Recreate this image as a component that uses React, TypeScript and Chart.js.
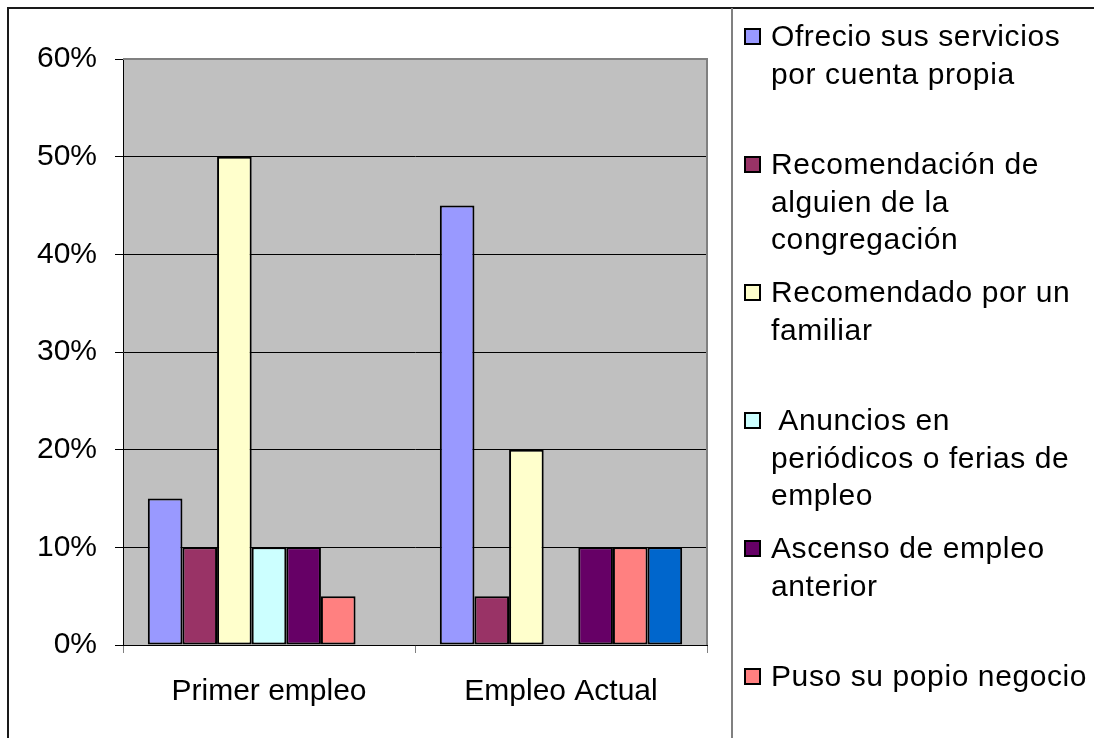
import React, { useEffect, useRef } from "react";
import { Chart, registerables } from "chart.js";

Chart.register(...registerables);

// ---- data ----
const categories = ["Primer empleo", "Empleo Actual"];

const ofrecioServicios = [15, 45];
const recomendacionCongregacion = [10, 5];
const recomendadoFamiliar = [50, 20];
const anunciosPeriodicos = [10, 0];
const ascensoEmpleo = [10, 10];
const propioNegocio = [5, 10];
const otraVia = [0, 10];

const legendLines: string[][] = [
  ["Ofrecio sus servicios", "por cuenta propia"],
  ["Recomendación de", "alguien de la", "congregación"],
  ["Recomendado por un", "familiar"],
  [" Anuncios en", "periódicos o ferias de", "empleo"],
  ["Ascenso de empleo", "anterior"],
  ["Puso su popio negocio"],
];
const otherLabel = "Otro";

const seriesColors = ["#9999FF", "#993366", "#FFFFCC", "#CCFFFF", "#660066", "#FF8080", "#0066CC"];

const yMin = 0;
const yMax = 60;
const yStep = 10;

const FONT = "Arial, 'Liberation Sans', sans-serif";

export default function App() {
  const canvasRef = useRef<HTMLCanvasElement | null>(null);

  useEffect(() => {
    const canvas = canvasRef.current;
    if (!canvas) return;
    const seriesValues = [
      ofrecioServicios,
      recomendacionCongregacion,
      recomendadoFamiliar,
      anunciosPeriodicos,
      ascensoEmpleo,
      propioNegocio,
      otraVia,
    ];
    const labels = [...legendLines.map((l) => l.join(" ").trim()), otherLabel];

    const plotBg = {
      id: "plotBg",
      beforeDraw(chart: any) {
        const { ctx, chartArea: a } = chart;
        ctx.save();
        ctx.fillStyle = "#C0C0C0";
        ctx.fillRect(a.left, a.top, a.right - a.left, a.bottom - a.top);
        ctx.restore();
      },
      afterDraw(chart: any) {
        const { ctx, chartArea: a } = chart;
        ctx.save();
        ctx.strokeStyle = "#808080";
        ctx.lineWidth = 2;
        ctx.beginPath();
        ctx.moveTo(a.left, a.top);
        ctx.lineTo(a.right, a.top);
        ctx.lineTo(a.right, a.bottom);
        ctx.stroke();
        ctx.restore();
      },
    };

    const chart = new Chart(canvas, {
      type: "bar",
      data: {
        labels: categories,
        datasets: seriesValues.map((vals, i) => ({
          label: labels[i],
          data: vals,
          backgroundColor: seriesColors[i],
          borderColor: "#000000",
          borderWidth: 2,
          borderSkipped: false,
          categoryPercentage: 0.83,
          barPercentage: 1,
        })),
      },
      options: {
        responsive: false,
        animation: false,
        layout: { padding: { left: 0, right: 387, top: 59, bottom: 0 } },
        plugins: {
          legend: { display: false },
          tooltip: { enabled: false },
          title: { display: false },
        },
        scales: {
          x: {
            offset: true,
            grid: {
              offset: true,
              drawOnChartArea: false,
              drawTicks: true,
              tickLength: 8,
              tickColor: "#808080",
              lineWidth: 1,
            },
            border: { display: true, color: "#000000", width: 1 },
            ticks: { color: "#000000", font: { family: FONT, size: 30 }, padding: 21 },
            afterFit(scale: any) {
              scale.height = 93;
            },
          },
          y: {
            min: yMin,
            max: yMax,
            ticks: {
              stepSize: yStep,
              color: "#000000",
              font: { family: FONT, size: 30 },
              padding: 18,
              callback: (v: any) => `${v}%`,
            },
            grid: { color: "#000000", lineWidth: 1, tickLength: 8, tickColor: "#000000" },
            border: { display: true, color: "#000000", width: 1 },
            afterFit(scale: any) {
              scale.width = 123;
            },
          },
        },
      },
      plugins: [plotBg],
    });
    return () => chart.destroy();
  }, []);

  const firstLineCenter = 36;
  const itemPitch = 128;
  const lineH = 37.5;

  return (
    <div
      style={{
        position: "absolute",
        left: 0,
        top: 0,
        width: 1094,
        height: 738,
        overflow: "hidden",
        background: "#ffffff",
      }}
    >
      <canvas
        ref={canvasRef}
        width={1094}
        height={738}
        style={{ position: "absolute", left: 0, top: 0, width: 1094, height: 738 }}
      />
      {/* outer chart frame */}
      <div
        style={{
          position: "absolute",
          left: 7,
          top: 7,
          width: 1200,
          height: 1000,
          borderLeft: "2px solid #1a1a1a",
          borderTop: "2px solid #1a1a1a",
          boxSizing: "border-box",
          pointerEvents: "none",
        }}
      />
      {/* legend box left border */}
      <div
        style={{
          position: "absolute",
          left: 731,
          top: 8,
          width: 2,
          height: 740,
          background: "#808080",
        }}
      />
      {legendLines.map((lines, i) => {
        const top = firstLineCenter + itemPitch * i - lineH / 2;
        return (
          <div key={i}>
            <div
              style={{
                position: "absolute",
                left: 744,
                top: firstLineCenter + itemPitch * i - 8,
                width: 13,
                height: 13,
                border: "2px solid #000",
                background: seriesColors[i],
              }}
            />
            <div
              style={{
                position: "absolute",
                left: 771,
                top,
                fontFamily: FONT,
                fontSize: 30,
                letterSpacing: "0.6px",
                lineHeight: `${lineH}px`,
                color: "#000",
                whiteSpace: "pre",
              }}
            >
              {lines.map((ln, j) => (
                <div key={j}>{ln}</div>
              ))}
            </div>
          </div>
        );
      })}
    </div>
  );
}
